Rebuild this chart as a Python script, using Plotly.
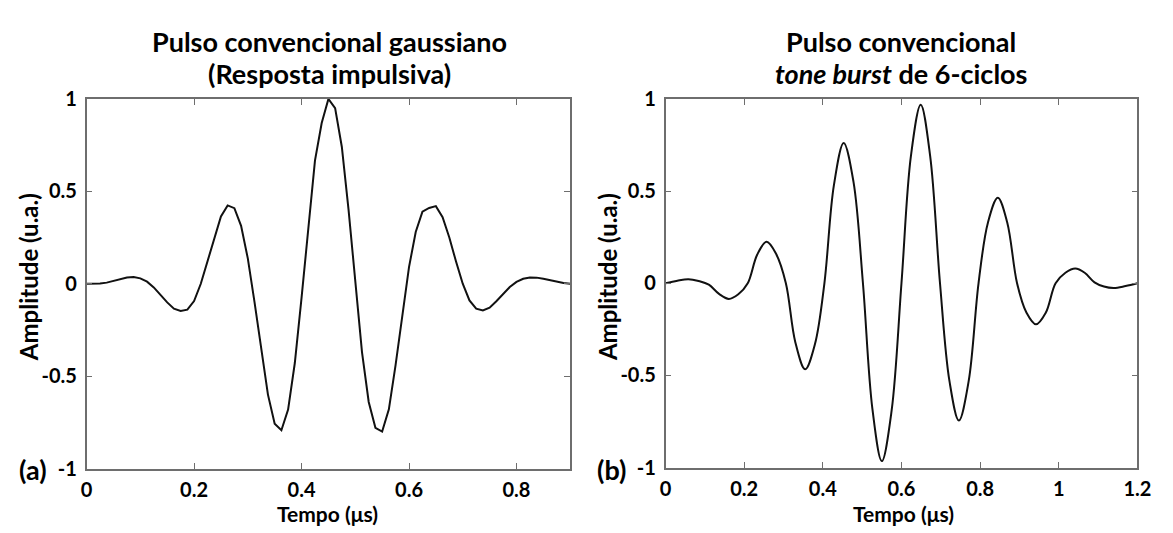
import plotly.graph_objects as go

# (a) gaussian pulse, sampled every 0.0125 us
t_gauss = [i * 0.0125 for i in range(73)]
a_gauss = [
    0.0, 0.0, 0.001, 0.006, 0.015, 0.025, 0.034, 0.036, 0.029, 0.011,
    -0.020, -0.060, -0.101, -0.135, -0.147, -0.140, -0.094, 0.0, 0.123, 0.254,
    0.364, 0.424, 0.409, 0.313, 0.137, -0.100, -0.363, -0.600, -0.758, -0.793,
    -0.681, -0.429, -0.077, 0.312, 0.666, 0.87, 1.0, 0.95, 0.74, 0.40,
    0.0, -0.37, -0.64, -0.78, -0.80, -0.68, -0.44, -0.16, 0.09, 0.28,
    0.39, 0.41, 0.42, 0.36, 0.25, 0.12, 0.0, -0.09, -0.135, -0.145,
    -0.13, -0.095, -0.055, -0.018, 0.01, 0.027, 0.034, 0.033, 0.027, 0.018,
    0.010, 0.004, 0.0,
]

# (b) 6-cycle tone burst
t_burst = [
    0.0, 0.03, 0.058, 0.084, 0.11, 0.136, 0.161, 0.185, 0.209, 0.233,
    0.257, 0.281, 0.306, 0.330, 0.355, 0.380, 0.404, 0.428, 0.453, 0.478,
    0.502, 0.526, 0.550, 0.575, 0.600, 0.624, 0.649, 0.673, 0.698, 0.722,
    0.746, 0.771, 0.796, 0.820, 0.845, 0.869, 0.894, 0.918, 0.942, 0.967,
    0.992, 1.017, 1.042, 1.066, 1.091, 1.115, 1.140, 1.170, 1.2,
]
a_burst = [
    0.0, 0.014, 0.022, 0.012, -0.008, -0.058, -0.085, -0.06, 0.0, 0.155,
    0.225, 0.16, 0.0, -0.32, -0.467, -0.33, 0.0, 0.53, 0.761, 0.55,
    0.0, -0.68, -0.965, -0.69, 0.0, 0.69, 0.969, 0.69, 0.0, -0.53,
    -0.745, -0.53, 0.0, 0.33, 0.464, 0.33, 0.0, -0.16, -0.223, -0.16,
    0.0, 0.057, 0.080, 0.057, 0.005, -0.018, -0.026, -0.015, 0.0,
]

y_ticks = [-1, -0.5, 0, 0.5, 1]
y_ticktext = ["-1", "-0.5", "0", "0.5", "1"]
x_ticks_a = [0, 0.2, 0.4, 0.6, 0.8]
x_ticks_b = [0, 0.2, 0.4, 0.6, 0.8, 1, 1.2]

FONT = "Lato"
W, H = 1173, 533

fig = go.Figure()
fig.add_trace(go.Scatter(x=t_gauss, y=a_gauss, mode="lines",
                         line=dict(color="#111111", width=2),
                         xaxis="x", yaxis="y", showlegend=False))
fig.add_trace(go.Scatter(x=t_burst, y=a_burst, mode="lines",
                         line=dict(color="#111111", width=2, shape="spline", smoothing=1),
                         xaxis="x2", yaxis="y2", showlegend=False))

def px_x(p):
    return p / W

def px_y(p):
    return 1 - p / H

tickfont = dict(family=FONT, size=20, color="black", weight="bold")
ax_common = dict(showline=True, linecolor="#6e6e6e", linewidth=1.5, mirror="ticks",
                 ticks="inside", ticklen=6, tickcolor="#6e6e6e", showgrid=False,
                 zeroline=False, tickfont=tickfont)

fig.update_layout(
    width=W, height=H, margin=dict(l=0, r=0, t=0, b=0),
    paper_bgcolor="white", plot_bgcolor="white",
    xaxis=dict(domain=[px_x(82), px_x(574)], range=[0, 0.9], tickvals=x_ticks_a,
               ticktext=[str(v) for v in x_ticks_a], anchor="y",
               ticklabelstandoff=3, **ax_common),
    yaxis=dict(domain=[px_y(477), px_y(90)], range=[-1, 1], tickvals=y_ticks,
               ticktext=y_ticktext, anchor="x", ticklabelstandoff=4, **ax_common),
    xaxis2=dict(domain=[px_x(671), px_x(1151)], range=[0, 1.2], tickvals=x_ticks_b,
                ticktext=["0", "0.2", "0.4", "0.6", "0.8", "1", "1.2"], anchor="y2",
                ticklabelstandoff=3, **ax_common),
    yaxis2=dict(domain=[px_y(476), px_y(90)], range=[-1, 1], tickvals=y_ticks,
                ticktext=y_ticktext, anchor="x2", ticklabelstandoff=4, **ax_common),
)

def label(text, x, y, size, angle=0):
    fig.add_annotation(text=text, x=px_x(x), y=px_y(y), xref="paper", yref="paper",
                       showarrow=False, textangle=angle, xanchor="center", yanchor="middle",
                       borderpad=0,
                       font=dict(family=FONT, size=size, color="black", weight="bold"))

# titles
label("Pulso convencional gaussiano", 329, 30, 27)
label("(Resposta impulsiva)", 329, 63, 27)
label("Pulso convencional", 911, 30, 27)
label("<i>tone burst</i> de 6-ciclos", 911, 63, 27)

# axis titles
label("Amplitude (u.a.)", 23, 277, 24, angle=-90)
label("Amplitude (u.a.)", 612, 277, 24, angle=-90)
label("Tempo (μs)", 327, 524, 21)
label("Tempo (μs)", 913, 524, 21)

# panel letters
label("(a)", 27, 478, 27)
label("(b)", 616, 478, 27)

page_css = (
    "var r=document.documentElement,b=document.body;"
    "r.style.margin='0';r.style.overflow='hidden';"
    "b.style.margin='0';b.style.overflow='hidden';"
)
fig.write_html("out.html", config={"displayModeBar": False}, post_script=page_css)
